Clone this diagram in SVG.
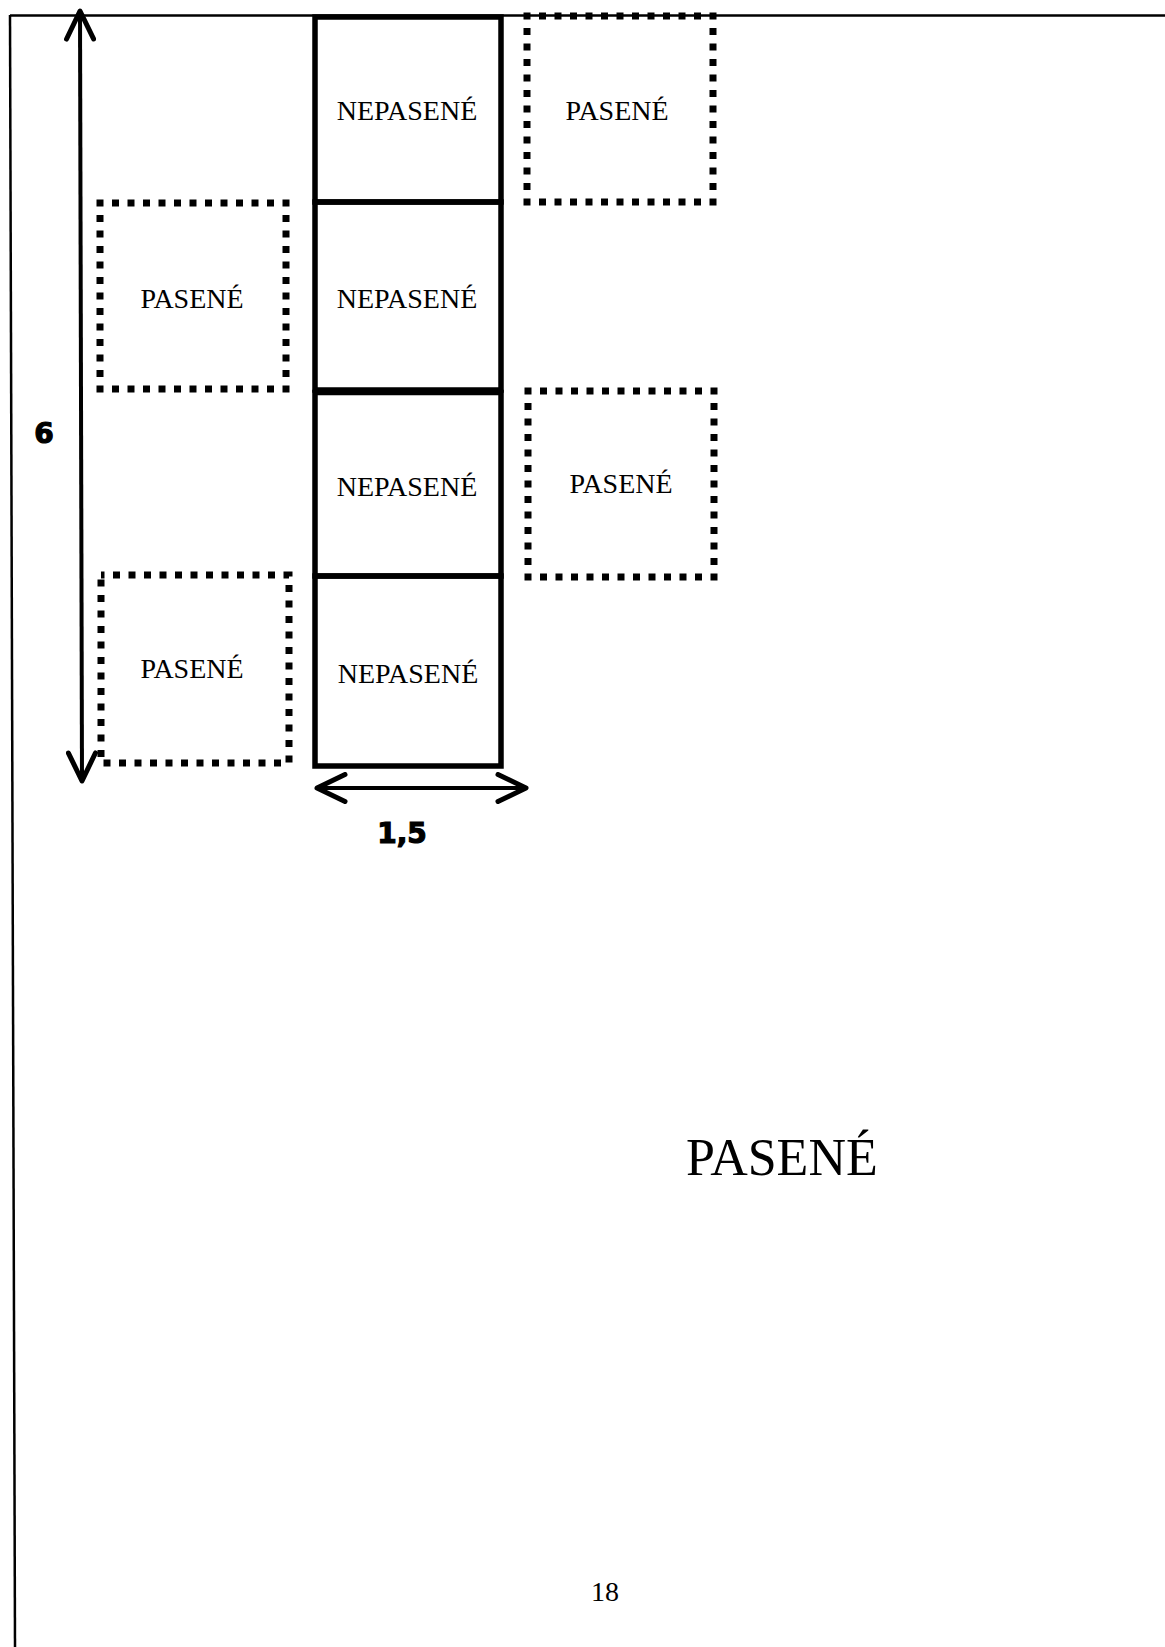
<svg xmlns="http://www.w3.org/2000/svg" width="1165" height="1647" viewBox="0 0 1165 1647">
  <style>
    .frame { fill: none; stroke: #000; stroke-width: 2.5; }
    .cell { fill: none; stroke: #000; stroke-width: 5.5; }
    .grazed { fill: none; stroke: #000; stroke-width: 7; stroke-dasharray: 7 8.5; stroke-dashoffset: 3.5; }
    .lbl { font-family: "Liberation Serif", "Times New Roman", serif; font-size: 28px; fill: #000; text-anchor: middle; }
    .dim { font-family: "DejaVu Sans", "Liberation Sans", sans-serif; font-weight: bold; font-size: 28px; fill: #000; stroke: #000; stroke-width: 1.2; text-anchor: middle; }
    .dimline { fill: none; stroke: #000; stroke-width: 4; }
  </style>
  <defs>
    <marker id="chev" viewBox="0 0 36 32" refX="31" refY="16" markerWidth="36" markerHeight="32" markerUnits="userSpaceOnUse" orient="auto-start-reverse">
      <path d="M3,2.5 L31,16 L3,29.5" fill="none" stroke="#000" stroke-width="5" stroke-linejoin="round" stroke-linecap="round"/>
    </marker>
  </defs>
  <rect width="1165" height="1647" fill="#fff"/>

  <!-- page frame -->
  <g id="frame">
    <line class="frame" x1="10" y1="15.5" x2="1165" y2="15.5"/>
    <line class="frame" x1="10" y1="15" x2="15" y2="1647"/>
  </g>

  <!-- ungrazed strip, 1.5 wide -->
  <g id="nepasene-1">
    <rect class="cell" x="315" y="17" width="186" height="185"/>
    <text class="lbl" x="407" y="120">NEPASENÉ</text>
  </g>
  <g id="nepasene-2">
    <rect class="cell" x="315" y="202" width="186" height="188"/>
    <text class="lbl" x="407" y="308">NEPASENÉ</text>
  </g>
  <g id="nepasene-3">
    <rect class="cell" x="315" y="392.5" width="186" height="183.5"/>
    <text class="lbl" x="407" y="496">NEPASENÉ</text>
  </g>
  <g id="nepasene-4">
    <rect class="cell" x="315" y="576" width="186" height="190"/>
    <text class="lbl" x="408" y="683">NEPASENÉ</text>
  </g>

  <!-- grazed plots -->
  <g id="pasene-right-1">
    <rect class="grazed" x="527" y="16" width="186" height="186"/>
    <text class="lbl" x="617" y="120">PASENÉ</text>
  </g>
  <g id="pasene-left-1">
    <rect class="grazed" x="100" y="203" width="186" height="186"/>
    <text class="lbl" x="192" y="308">PASENÉ</text>
  </g>
  <g id="pasene-right-2">
    <rect class="grazed" x="528" y="391" width="186" height="186"/>
    <text class="lbl" x="621" y="493">PASENÉ</text>
  </g>
  <g id="pasene-left-2">
    <rect class="grazed" x="101" y="575" width="188" height="188"/>
    <text class="lbl" x="192" y="678">PASENÉ</text>
  </g>

  <!-- dimension arrows -->
  <g id="connectors">
    <line class="dimline" x1="80" y1="11" x2="82" y2="781" marker-start="url(#chev)" marker-end="url(#chev)"/>
    <line class="dimline" x1="317" y1="788" x2="526" y2="788" marker-start="url(#chev)" marker-end="url(#chev)"/>
  </g>

  <g id="dimension-labels">
    <text class="dim" x="44" y="443">6</text>
    <text class="dim" x="402" y="843">1,5</text>
  </g>

  <g id="surround">
    <text x="686" y="1175" font-family="Liberation Serif, 'Times New Roman', serif" font-size="52" fill="#000">PASENÉ</text>
  </g>

  <g id="page-number">
    <text x="605" y="1601" font-family="Liberation Serif, 'Times New Roman', serif" font-size="28" fill="#000" text-anchor="middle">18</text>
  </g>
</svg>
